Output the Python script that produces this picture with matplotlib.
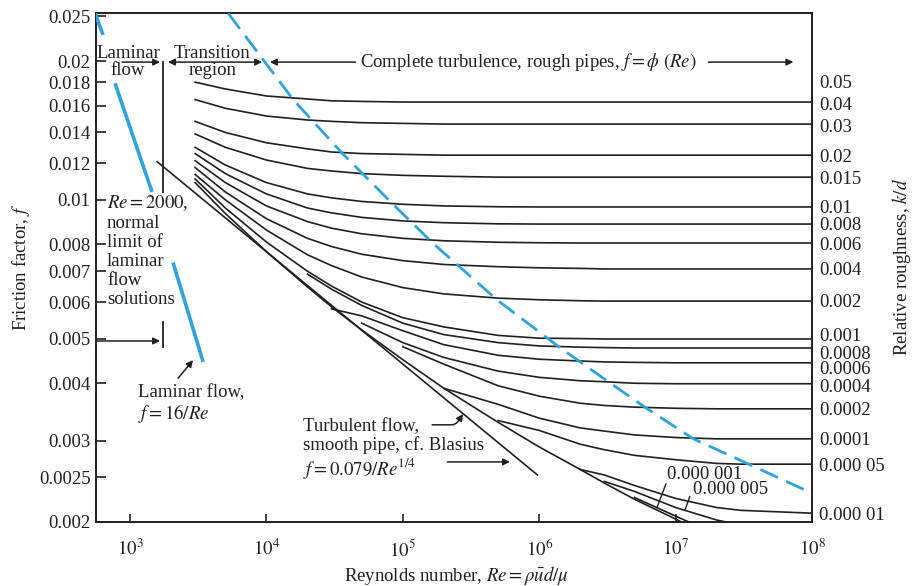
import numpy as np
import matplotlib
matplotlib.use("Agg")
import matplotlib.pyplot as plt
from matplotlib.ticker import NullLocator, FixedLocator

plt.rcParams['font.family'] = ['Liberation Serif', 'DejaVu Serif']
plt.rcParams['mathtext.fontset'] = 'stix'

INK = '#231f20'
BLUE = '#2ea3dc'
FS = 13.5

# Reynolds numbers at which the roughness curves were read off the chart
RE = [3e3, 5e3, 1e4, 2e4, 3e4, 5e4, 1e5, 2e5, 5e5, 1e6, 2e6, 3e6, 5e6, 1e7, 2e7, 3e7, 1e8]
N = None

# Fanning friction factor for each relative roughness k/d
f_k04 = [0.0180, 0.0174, 0.0168, 0.01655, 0.0164, 0.01635, 0.0163, 0.0163, 0.0163, 0.0163,
         0.0163, 0.0163, 0.0163, 0.0163, 0.0163, 0.0163, 0.0163]
f_k03 = [0.0165, 0.0158, 0.0152, 0.0149, 0.0148, 0.0147, 0.01465, 0.0146, 0.0146, 0.0146,
         0.0146, 0.0146, 0.0146, 0.0146, 0.0146, 0.0146, 0.0146]
f_k02 = [0.0148, 0.0140, 0.0133, 0.0129, 0.0127, 0.0126, 0.01255, 0.0125, 0.0125, 0.0125,
         0.0125, 0.0125, 0.0125, 0.0125, 0.0125, 0.0125, 0.0125]
f_k015 = [0.0139, 0.0130, 0.0122, 0.0117, 0.01155, 0.0114, 0.0113, 0.01125, 0.0112, 0.0112,
          0.0112, 0.0112, 0.0112, 0.0112, 0.0112, 0.0112, 0.0112]
f_k01 = [0.0130, 0.0119, 0.0109, 0.0103, 0.0101, 0.00992, 0.00978, 0.0097, 0.00966, 0.00965,
         0.00965, 0.00965, 0.00965, 0.00965, 0.00965, 0.00965, 0.00965]
f_k008 = [0.0126, 0.0114, 0.0103, 0.0096, 0.00937, 0.00916, 0.0090, 0.00892, 0.00887, 0.00886,
          0.00886, 0.00886, 0.00886, 0.00886, 0.00886, 0.00886, 0.00886]
f_k006 = [0.01216, 0.0109, 0.0097, 0.00897, 0.00868, 0.00844, 0.00825, 0.00815, 0.00809, 0.00807,
          0.00806, 0.00806, 0.00806, 0.00806, 0.00806, 0.00806, 0.00806]
f_k004 = [0.01175, 0.0104, 0.0091, 0.00825, 0.00792, 0.00762, 0.00738, 0.00724, 0.00716, 0.00712,
          0.0071, 0.00708, 0.00708, 0.00708, 0.00708, 0.00708, 0.00708]
f_k002 = [0.01135, 0.0100, 0.0086, 0.0076, 0.0072, 0.0068, 0.00645, 0.00625, 0.00612, 0.00607,
          0.00604, 0.00603, 0.00603, 0.00603, 0.00603, 0.00603, 0.00603]
f_k001 = [0.0111, 0.0096, 0.0081, 0.0070, 0.0065, 0.0060, 0.00555, 0.0053, 0.00508, 0.00501,
          0.0050, 0.00499, 0.00499, 0.00499, 0.00499, 0.00499, 0.00499]
f_k0008 = [N, N, N, 0.0069, 0.0064, 0.0059, 0.0054, 0.0051, 0.0049, 0.00482,
           0.00479, 0.00478, 0.00477, 0.00477, 0.00477, 0.00477, 0.00477]
f_k0006 = [N, N, N, N, 0.0058, 0.0056, 0.0052, 0.00485, 0.0046, 0.00451,
           0.00447, 0.00445, 0.00444, 0.00443, 0.00443, 0.00443, 0.00443]
f_k0004 = [N, N, N, N, N, 0.0054, 0.0049, 0.00455, 0.00425, 0.00412,
           0.00405, 0.00403, 0.0040, 0.00399, 0.00399, 0.00399, 0.00399]
f_k0002 = [N, N, N, N, N, N, 0.0048, 0.0044, 0.00395, 0.00375,
           0.00362, 0.00358, 0.00355, 0.00353, 0.00352, 0.00352, 0.00352]
f_k0001 = [N, N, N, N, N, N, N, 0.0039, 0.0036, 0.00336,
           0.0032, 0.00315, 0.00309, 0.00305, 0.00303, 0.00303, 0.00303]
f_k00005 = [N, N, N, N, N, N, N, N, 0.00332, 0.00316,
            0.00295, 0.00287, 0.00279, 0.00273, 0.00268, 0.00267, 0.00267]
f_k00001 = [N, N, N, N, N, N, N, N, N, N,
            0.0026, 0.00253, 0.0024, 0.00225, 0.00215, 0.00212, 0.00209]
f_k000005 = [N, N, N, N, N, N, N, N, N, N,
             N, 0.00245, 0.00233, 0.00215, 0.00202, 0.00197, N]
f_k000001 = [N, N, N, N, N, N, N, N, N, N,
             N, N, 0.00226, 0.00206, 0.00188, N, N]
f_smooth = [0.0109, 0.00934, 0.00772, 0.00647, 0.00586, 0.00522, 0.0045, 0.0039, 0.00329, 0.00291,
            0.0026, 0.00243, 0.00224, 0.00203, 0.00183, N, N]

curves = [f_k04, f_k03, f_k02, f_k015, f_k01, f_k008, f_k006, f_k004, f_k002, f_k001,
          f_k0008, f_k0006, f_k0004, f_k0002, f_k0001, f_k00005, f_k00001,
          f_k000005, f_k000001, f_smooth]

# boundary of complete turbulence (dashed)
bound_re = [5.24e3, 1.57e4, 3.59e4, 8.5e4, 1.67e5, 4.93e5, 1.43e6, 3.33e6, 6.2e6, 1.35e7, 1e8]
bound_f = [0.0254, 0.0165, 0.01263, 0.00977, 0.00804, 0.00606, 0.00477, 0.0040, 0.00352, 0.00303, 0.00231]

# laminar line f = 16/Re, drawn in three pieces between the labels
lam_re = [[553, 634], [776, 1450], [2067, 3435]]
lam_f = [[0.0254, 0.0228], [0.0179, 0.0104], [0.00731, 0.00445]]

# Blasius straight line
blas_re = [1580, 9.7e5]
blas_f = [0.0121, 0.00253]

# axis ticks
yticks = [0.002, 0.0025, 0.003, 0.004, 0.005, 0.006, 0.007, 0.008, 0.01,
          0.012, 0.014, 0.016, 0.018, 0.02, 0.025]
ytick_labels = ['0.002', '0.0025', '0.003', '0.004', '0.005', '0.006', '0.007', '0.008', '0.01',
                '0.012', '0.014', '0.016', '0.018', '0.02', '0.025']
xticks = [1e3, 1e4, 1e5, 1e6, 1e7, 1e8]
xtick_labels = ['$10^3$', '$10^4$', '$10^5$', '$10^6$', '$10^7$', '$10^8$']

rough_pos = [0.01802, 0.01622, 0.0145, 0.0125, 0.0112, 0.00965, 0.0089, 0.00806, 0.0071,
             0.00606, 0.0051, 0.00467, 0.00432, 0.00396, 0.00352, 0.00304, 0.00266, 0.00209]
rough_labels = ['0.05', '0.04', '0.03', '0.02', '0.015', '0.01', '0.008', '0.006', '0.004',
                '0.002', '0.001', '0.0008', '0.0006', '0.0004', '0.0002', '0.0001',
                '0.000 05', '0.000 01']


def main():
    fig = plt.figure(figsize=(9.16, 5.86), dpi=100)
    ax = fig.add_axes([96 / 916, 64 / 586, 716 / 916, 509 / 586])
    ax.set_xscale('log')
    ax.set_yscale('log')
    ax.set_xlim(563, 1e8)
    ax.set_ylim(0.002, 0.02543)

    re = np.array(RE, dtype=float)
    for fc in curves:
        ax.plot(re, np.array(fc, dtype=float), color=INK, lw=1.2, zorder=2)

    ax.plot(blas_re, blas_f, color=INK, lw=1.2, zorder=2)
    for r, f in zip(lam_re, lam_f):
        ax.plot(r, f, color=BLUE, lw=2.6, solid_capstyle='butt', zorder=3)
    ax.plot(bound_re, bound_f, color=BLUE, lw=2.0, dashes=(7, 3.2), zorder=3)

    # axes styling
    for s in ax.spines.values():
        s.set_linewidth(1.4)
        s.set_color(INK)
    ax.xaxis.set_major_locator(FixedLocator(xticks))
    ax.set_xticklabels(xtick_labels)
    ax.xaxis.set_minor_locator(NullLocator())
    ax.yaxis.set_major_locator(FixedLocator(yticks))
    ax.set_yticklabels(ytick_labels)
    ax.yaxis.set_minor_locator(NullLocator())
    ax.tick_params(axis='x', direction='in', length=6, width=1.2, pad=12,
                   labelsize=FS, colors=INK, top=False)
    ax.tick_params(axis='y', direction='in', length=7, width=1.2, pad=4,
                   labelsize=FS, colors=INK, right=False)

    ax2 = ax.twinx()
    ax2.set_yscale('log')
    ax2.set_ylim(ax.get_ylim())
    ax2.yaxis.set_major_locator(FixedLocator(rough_pos))
    ax2.set_yticklabels(rough_labels)
    ax2.yaxis.set_minor_locator(NullLocator())
    ax2.tick_params(axis='y', length=0, pad=5, labelsize=FS, colors=INK)
    for s in ax2.spines.values():
        s.set_visible(False)

    ax.set_xlabel(r'Reynolds number, $Re = \rho\bar{u}d/\mu$', fontsize=FS, color=INK)
    ax.xaxis.set_label_coords(0.503, -0.082)
    ax.set_ylabel(r'Friction factor, $f$', fontsize=FS, color=INK, labelpad=5)
    ax2.set_ylabel(r'Relative roughness, $k/d$', fontsize=FS, color=INK, labelpad=4)

    # region labels along the top
    arw = dict(arrowstyle='-|>', color=INK, lw=1.1, mutation_scale=10,
               shrinkA=0, shrinkB=0)
    ax.text(966, 0.01994, 'Laminar\nflow', fontsize=FS, ha='center', va='center',
            linespacing=1.0, color=INK, zorder=4)
    ax.annotate('', xy=(1660, 0.0199), xytext=(874, 0.0199), arrowprops=arw)
    ax.plot([1750, 1750], [0.0199, 0.0104], color=INK, lw=1.3)
    ax.text(4000, 0.01994, 'Transition\nregion', fontsize=FS, ha='center', va='center',
            linespacing=1.0, color=INK, zorder=4)
    ax.annotate('', xy=(9300, 0.0199), xytext=(1900, 0.0199),
                arrowprops=dict(arw, arrowstyle='<|-|>'))
    ax.annotate('', xy=(1.06e4, 0.0199), xytext=(4.5e4, 0.0199), arrowprops=arw)
    ax.text(8.3e5, 0.0199, r'Complete turbulence, rough pipes, $f = \phi\ (Re)$',
            fontsize=FS, ha='center', va='center', color=INK)
    ax.annotate('', xy=(7.3e7, 0.0199), xytext=(1.74e7, 0.0199), arrowprops=arw)

    # Re = 2000 note
    ax.text(678, 0.01035, '$Re = 2000$,\nnormal\nlimit of\nlaminar\nflow\nsolutions',
            fontsize=FS, ha='left', va='top', linespacing=1.15, color=INK)
    ax.annotate('', xy=(1660, 0.00494), xytext=(563, 0.00494), arrowprops=arw)
    ax.plot([1750, 1750], [0.00543, 0.00479], color=INK, lw=1.3)

    ax.text(1145, 0.00398, 'Laminar flow,\n$f = 16/Re$', fontsize=FS, ha='left',
            va='top', linespacing=1.05, color=INK)
    ax.annotate('', xy=(2900, 0.00449), xytext=(2250, 0.0041), arrowprops=arw)

    ax.text(1.86e4, 0.00336, 'Turbulent flow,\nsmooth pipe, cf. Blasius\n$f = 0.079/Re^{1/4}$',
            fontsize=FS, ha='left', va='top', linespacing=1.1, color=INK)
    ax.annotate('', xy=(2.77e5, 0.00343), xytext=(1.64e5, 0.00325),
                arrowprops=dict(arw, connectionstyle='angle,angleA=0,angleB=-125,rad=4'))
    ax.annotate('', xy=(6.1e5, 0.0027), xytext=(2.12e5, 0.0027), arrowprops=arw)

    ax.text(8.7e6, 0.00253, '0.000 001', fontsize=FS, ha='left', va='center', color=INK)
    ax.plot([8.5e6, 7.3e6], [0.00242, 0.00215], color=INK, lw=1.0)
    ax.text(1.35e7, 0.00235, '0.000 005', fontsize=FS, ha='left', va='center', color=INK)
    ax.plot([1.27e7, 1.17e7], [0.00227, 0.00212], color=INK, lw=1.0)

    fig.savefig('out.png', dpi=100)


if __name__ == '__main__':
    main()
